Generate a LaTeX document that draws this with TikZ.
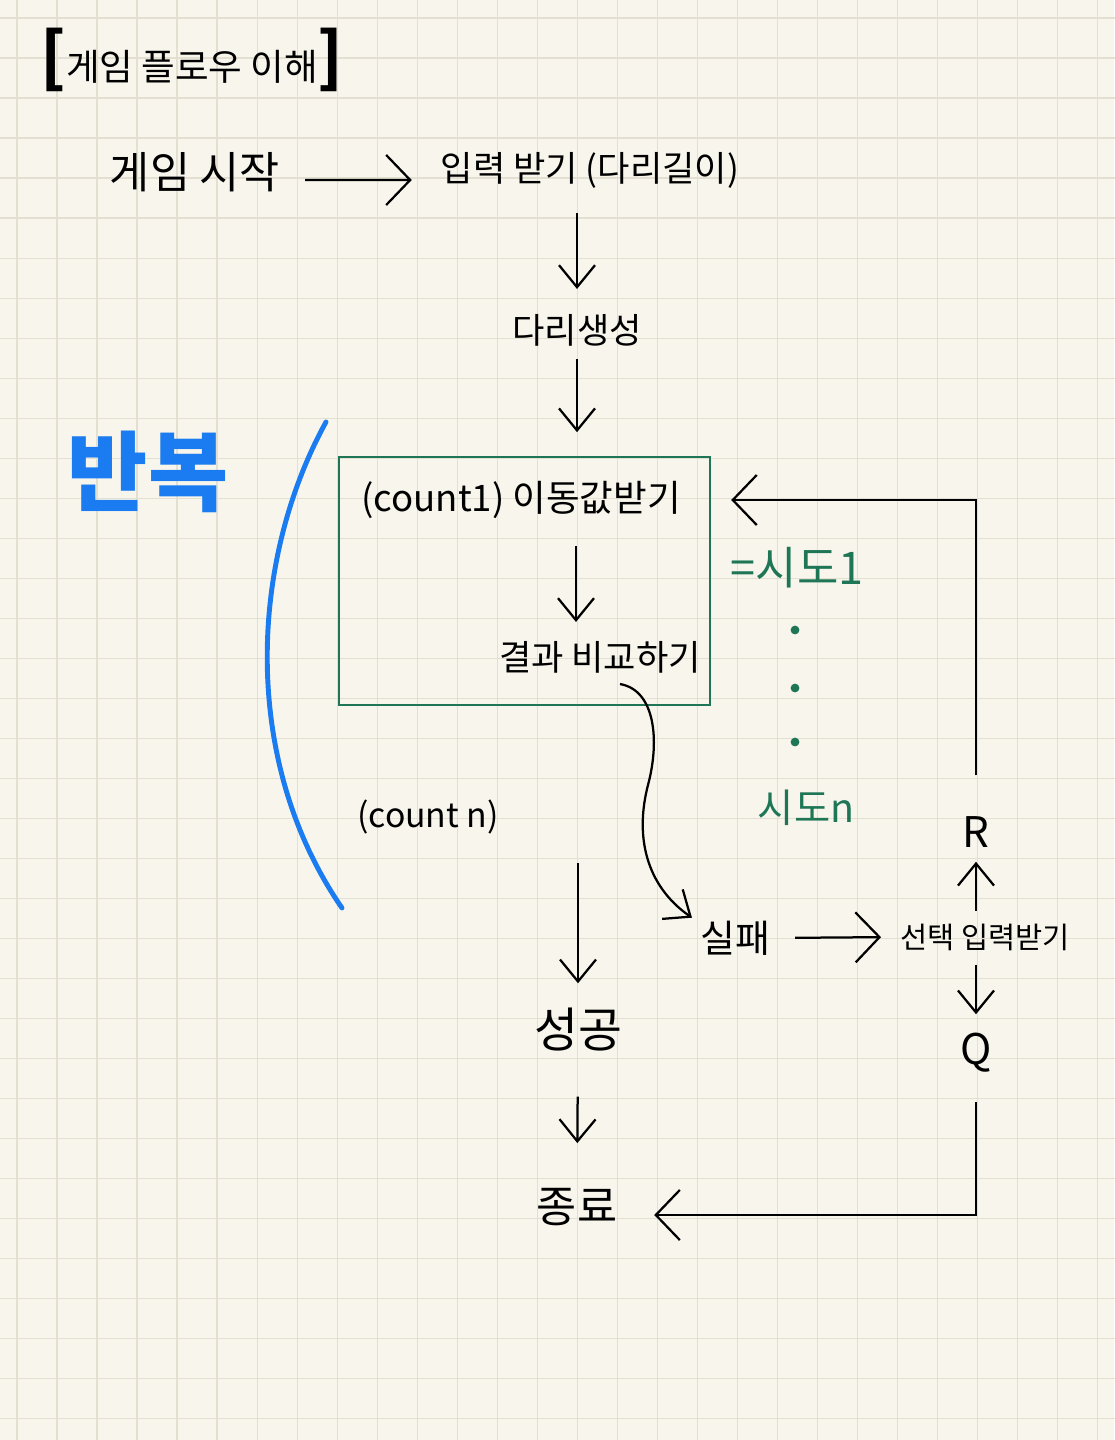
\documentclass[tikz,border=0pt]{standalone}
\usepackage{fontspec}
\setmainfont{Noto Sans CJK KR}
\usepackage{tikz}
\usetikzlibrary{arrows.meta,calc,positioning}
\definecolor{paper}{HTML}{F8F6EC}
\definecolor{gridcol}{HTML}{E3E0D2}
\definecolor{trygreen}{HTML}{1F7656}
\definecolor{loopblue}{HTML}{1A7CF0}

\begin{document}
\begin{tikzpicture}[x=0.025cm, y=-0.025cm, line width=1.6pt,
    lbl/.style={font=\fontsize{#1}{#1}\selectfont, inner sep=0pt},
    lbl/.default=26,
    arr/.style={-{Straight Barb[length=0.55cm,width=0.9cm]}},
    harr/.style={-{Straight Barb[length=0.6cm,width=1.25cm]}}]

    % Paper
    \useasboundingbox[fill=paper] (0,0) rectangle (1114,1440);
    \draw[gridcol, line width=0.8pt, xshift=0.425cm, yshift=-0.45cm] (-1cm,1cm) grid[step=1cm] (28cm,-37cm);

    % Title
    \node[lbl=26] (title) at (192,60) {{\fontsize{46}{46}\selectfont\bfseries [}게임 플로우 이해{\fontsize{46}{46}\selectfont\bfseries ]}};

    % Start
    \node[lbl=31] (start) at (195,172) {게임 시작};
    \node[lbl=25] (input) at (590,170) {입력 받기 (다리길이)};
    \node[lbl=25] (bridge) at (577,330) {다리생성};

    % Loop box
    \node[draw=trygreen, minimum width=9.275cm, minimum height=6.2cm, inner sep=0pt] (loopbox) at (524.5,581) {};
    \node[lbl=26] (move) at (521,500) {(count1) 이동값받기};
    \node[lbl=25] (compare) at (600,657) {결과 비교하기};

    % Tries
    \node[lbl=32, text=trygreen] (try1) at (797,568) {=시도1};
    \foreach \y in {630,688,742}
        \fill[trygreen] (795,\y) circle (0.11cm);
    \node[lbl=28, text=trygreen] (tryn) at (806,808) {시도n};

    % Repeat
    \node[lbl=62, text=loopblue] (loop) at (148,472) {\bfseries 반복};
    \draw[loopblue, line width=3.5pt, line cap=round] (326,422) .. controls (250,560) and (240,760) .. (342,908);
    \node[lbl=24] (countn) at (428,817) {(count n)};

    % Results
    \node[lbl=34] (success) at (578,1030) {성공};
    \node[lbl=31] (end) at (577,1207) {종료};
    \node[lbl=27] (fail) at (735,938) {실패};
    \node[lbl=21] (choose) at (985,937) {선택 입력받기};
    \node[lbl=30] (r) at (976,832) {R};
    \node[lbl=30] (q) at (976,1053) {Q};

    % Arrows
    \draw[harr, shorten <=0.6cm, shorten >=0.7cm] ([yshift=-0.2cm]start.east) -- ([yshift=-0.25cm]input.west);
    \draw[arr, shorten <=0.6cm, shorten >=0.6cm] (bridge.north |- input.south) -- (bridge.north);
    \draw[arr, shorten <=0.3cm, shorten >=1.2cm] (bridge.south) -- (bridge.south |- move.north);
    \coordinate (cmpin) at ([xshift=-0.6cm]compare.north);
    \draw[arr, shorten <=0.65cm, shorten >=0.45cm] (cmpin |- move.south) -- (cmpin);
    \draw[arr] ($(compare.south)+(20,10)$) .. controls (655,690) and (660,740) .. (648,785) .. controls (635,835) and (645,885) .. ($(fail.north west)+(-7,-2)$);
    \draw[harr, shorten <=0.6cm, shorten >=0.45cm] (fail.east) -- (choose.west);
    \draw[arr, shorten <=0.3cm, shorten >=0.33cm] (r.south |- choose.north) -- (r.south);
    \draw[arr, shorten <=0.33cm, shorten >=0.45cm] (q.north |- choose.south) -- (q.north);
    \draw[harr, shorten <=1cm, shorten >=0.5cm] (r.north) |- (move.east -| loopbox.east);
    \draw[harr, shorten <=0.7cm, shorten >=0.9cm] (q.south) |- ([yshift=-0.2cm]end.east);
    \draw[arr, shorten <=0.7cm, shorten >=0.6cm] (success.north |- countn.south) -- (success.north);
    \draw[arr, shorten <=1.1cm, shorten >=1.1cm] (success.south) -- (end.north);
\end{tikzpicture}
\end{document}
